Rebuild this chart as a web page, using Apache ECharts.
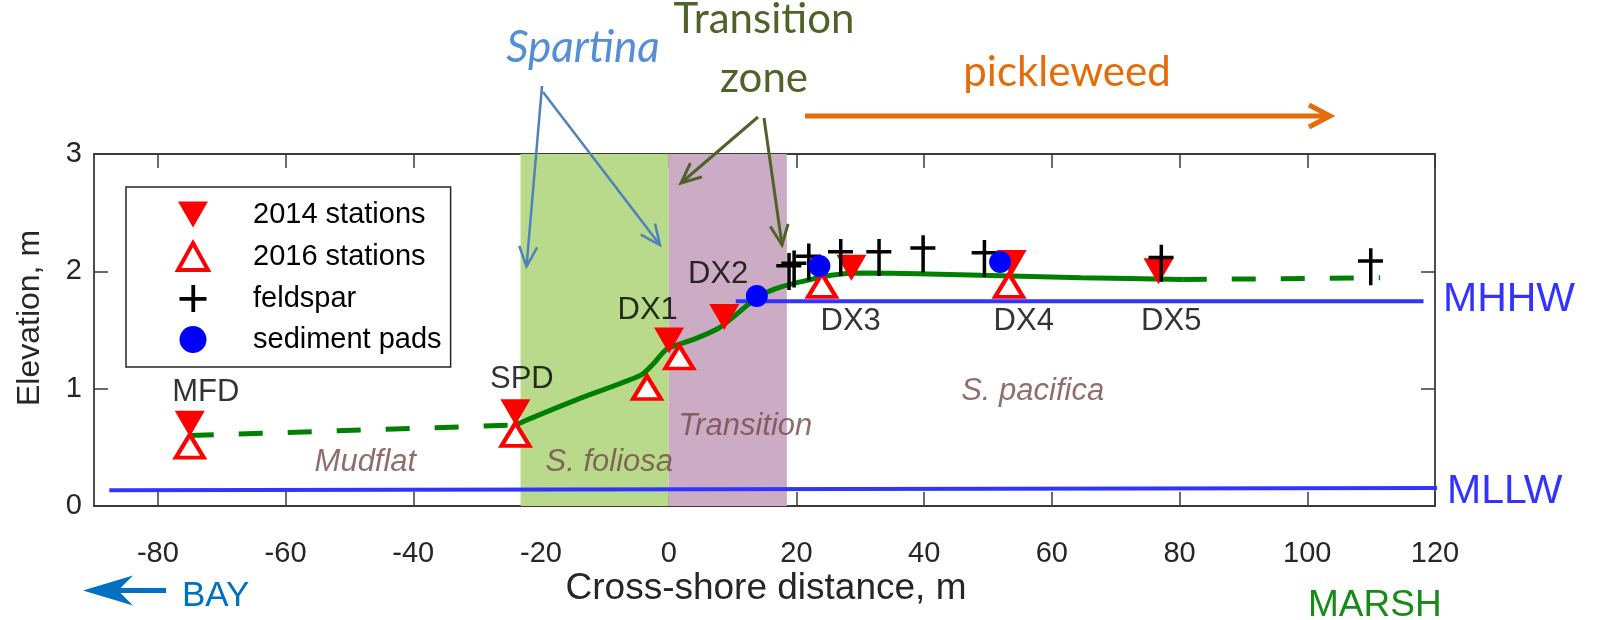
<!DOCTYPE html>
<html>
<head>
<meta charset="utf-8">
<script src="https://cdn.jsdelivr.net/npm/echarts@6/dist/echarts.min.js"></script>
<style>
  html, body { margin: 0; padding: 0; background: #fff; }
  #chart { width: 1598px; height: 620px; }
</style>
</head>
<body>
<div id="chart"></div>
<script>
// Cross-shore elevation profile across mudflat, Spartina, transition zone and pickleweed marsh

// Axis ticks
const xTicks = [-80, -60, -40, -20, 0, 20, 40, 60, 80, 100, 120];
const yTicks = [0, 1, 2, 3];

// Survey stations [distance m, elevation m]
const stations2014 = [[-75, 0.70], [-24, 0.80], [0.05, 1.41], [8.7, 1.61], [28.6, 2.03], [53.7, 2.07], [76.7, 2.00]];
const stations2016 = [[-75, 0.51], [-24, 0.61], [-3.4, 1.01], [1.65, 1.27], [24.0, 1.88], [53.3, 1.88]];
const feldspar = [[18.8, 2.05], [19.6, 2.07], [21.9, 2.13], [26.9, 2.17], [32.9, 2.17], [39.8, 2.20], [49.4, 2.16], [77.1, 2.12], [109.9, 2.09]];
const sedimentPads = [[13.8, 1.79], [23.6, 2.045], [51.9, 2.08]];

// Ground profile: surveyed (solid) and extrapolated (dashed)
const profileSurveyed = [[-24, 0.69], [-21.7, 0.745], [-13.9, 0.917], [-4.4, 1.114], [-2.4, 1.213], [-0.25, 1.34],
  [3.9, 1.42], [7.8, 1.515], [10.1, 1.61], [12.3, 1.71], [14.9, 1.81], [17.5, 1.866], [20.6, 1.91],
  [25.4, 1.967], [30.5, 1.985], [39, 1.98], [48.9, 1.966], [64.6, 1.946], [80.5, 1.93]];
const profileBaySide = [[-75, 0.60], [-24, 0.69]];
const profileMarshSide = [[80.5, 1.93], [111.4, 1.945]];

// Tidal datums
const mhhw = [[10.5, 1.745], [118.2, 1.745]];
const mllw = [[-87.6, 0.134], [120.5, 0.153]];

// Vegetation bands [from, to] in m
const spartinaBand = [-23.2, 0];
const transitionBand = [0, 18.5];

// Station names [distance, elevation, name]
const stationNames = [[-72.5, 0.965, 'MFD'], [-23.0, 1.08, 'SPD'], [-3.3, 1.67, 'DX1'], [7.75, 1.97, 'DX2'],
  [28.5, 1.575, 'DX3'], [55.6, 1.575, 'DX4'], [78.7, 1.575, 'DX5']];
// Habitat names [distance, elevation, name]
const habitatNames = [[-47.5, 0.373, 'Mudflat'], [-9.3, 0.373, 'S. foliosa'], [12.0, 0.675, 'Transition'], [57.0, 0.98, 'S. pacifica']];

const RED = '#ff0000';
const SANS = 'Liberation Sans, Arial, sans-serif';
const CALLOUT = 'Lato, sans-serif';
const downTriangle = 'path://M0,0 L30,0 L15,26 Z';
const plusSign = 'path://M11,0 H14.5 V11 H25 V14.5 H14.5 V25 H11 V14.5 H0 V11 H11 Z';
const dagger = 'path://M11,0 H14.5 V11 H25 V14.5 H14.5 V37 H11 V14.5 H0 V11 H11 Z';

const chart = echarts.init(document.getElementById('chart'), null, { renderer: 'canvas' });

// Arrow made of a shaft and a head (open chevron or filled stealth head)
function arrow(x1, y1, x2, y2, color, width, headLen, headHalf, filled) {
  const dx = x2 - x1, dy = y2 - y1;
  const len = Math.sqrt(dx * dx + dy * dy);
  const ux = dx / len, uy = dy / len;
  const px = -uy, py = ux;
  const bx = x2 - ux * headLen, by = y2 - uy * headLen;
  const left = [bx + px * headHalf, by + py * headHalf];
  const right = [bx - px * headHalf, by - py * headHalf];
  const els = [];
  const shaftEnd = filled ? [x2 - ux * headLen * 0.6, y2 - uy * headLen * 0.6] : [x2, y2];
  els.push({ type: 'line', z: 100, shape: { x1: x1, y1: y1, x2: shaftEnd[0], y2: shaftEnd[1] },
    style: { stroke: color, lineWidth: width, lineCap: 'butt' }, silent: true });
  if (filled) {
    const notch = [x2 - ux * headLen * 0.7, y2 - uy * headLen * 0.7];
    els.push({ type: 'polygon', z: 100, shape: { points: [[x2, y2], left, notch, right] },
      style: { fill: color }, silent: true });
  } else {
    els.push({ type: 'polyline', z: 100, shape: { points: [left, [x2, y2], right] },
      style: { stroke: color, lineWidth: width, fill: null, lineJoin: 'miter' }, silent: true });
  }
  return els;
}

function text(str, x, y, opts) {
  return {
    type: 'text', x: x, y: y, z: 100, silent: true,
    rotation: opts.rotation || 0,
    style: {
      text: str, fill: opts.color, font: opts.font,
      textAlign: opts.align || 'left', textVerticalAlign: 'middle'
    }
  };
}

const graphics = [].concat(
  [text('Elevation, m', 30, 318, { color: '#262626', font: '32px ' + SANS, align: 'center', rotation: Math.PI / 2 })],
  [text('Cross-shore distance, m', 766, 589, { color: '#262626', font: '37px ' + SANS, align: 'center' })],
  [text('BAY', 182, 596, { color: '#0070c0', font: '35px ' + SANS })],
  arrow(166, 590.5, 83, 590.5, '#0070c0', 5, 50, 15, true),
  [text('MARSH', 1308, 606, { color: '#178a17', font: '37px ' + SANS })],
  [text('MHHW', 1443, 300, { color: '#3333ff', font: '41px ' + SANS })],
  [text('MLLW', 1447, 492, { color: '#3333ff', font: '41px ' + SANS })],
  [text('Spartina', 583, 48, { color: '#558ed5', font: 'italic 44px ' + CALLOUT, align: 'center' })],
  [text('Transition', 764, 19, { color: '#4f6228', font: '42px ' + CALLOUT, align: 'center' })],
  [text('zone', 764, 78, { color: '#4f6228', font: '42px ' + CALLOUT, align: 'center' })],
  [text('pickleweed', 1067, 72, { color: '#e46c0a', font: '42px ' + CALLOUT, align: 'center' })],
  arrow(542, 86, 526.5, 266.5, '#4f81bd', 2.5, 20, 9, false),
  arrow(543, 92, 660, 245, '#4f81bd', 2.5, 20, 9, false),
  arrow(758, 117, 681, 183, '#4f6228', 3, 20, 9, false),
  arrow(764, 118, 782, 245, '#4f6228', 3, 20, 9, false),
  arrow(805, 116, 1330, 116, '#e46c0a', 5, 21, 11, false)
);

const axisLineStyle = { color: '#3a3a3a', width: 1.8 };
const tickStyle = { color: '#3a3a3a', width: 1.5 };

const option = {
  animation: false,
  backgroundColor: '#ffffff',
  grid: { left: 94, top: 154, width: 1341, height: 352, containLabel: false },
  xAxis: [
    {
      type: 'value', position: 'bottom', min: -90, max: 120,
      axisLine: { show: true, onZero: false, lineStyle: axisLineStyle },
      axisTick: { show: true, inside: true, length: 14, lineStyle: tickStyle, customValues: xTicks },
      axisLabel: { show: true, customValues: xTicks, margin: 33, color: '#262626', fontSize: 29, fontFamily: SANS },
      splitLine: { show: false }
    },
    {
      type: 'value', position: 'top', min: -90, max: 120,
      axisLine: { show: true, onZero: false, lineStyle: axisLineStyle },
      axisTick: { show: true, inside: true, length: 14, lineStyle: tickStyle, customValues: xTicks },
      axisLabel: { show: false },
      splitLine: { show: false }
    }
  ],
  yAxis: [
    {
      type: 'value', position: 'left', min: 0, max: 3, interval: 1,
      axisLine: { show: true, onZero: false, lineStyle: axisLineStyle },
      axisTick: { show: true, inside: true, length: 14, lineStyle: tickStyle },
      axisLabel: { show: true, margin: 12, color: '#262626', fontSize: 29, fontFamily: SANS,
        formatter: v => (yTicks.indexOf(v) >= 0 ? String(v) : '') },
      splitLine: { show: false }
    },
    {
      type: 'value', position: 'right', min: 0, max: 3, interval: 1,
      axisLine: { show: true, onZero: false, lineStyle: axisLineStyle },
      axisTick: { show: true, inside: true, length: 14, lineStyle: tickStyle },
      axisLabel: { show: false },
      splitLine: { show: false }
    }
  ],
  legend: {
    data: [
      { name: '2014 stations', icon: downTriangle },
      { name: '2016 stations', icon: 'triangle', itemStyle: { color: '#ffffff', borderColor: RED, borderWidth: 4 } },
      { name: 'feldspar', icon: plusSign },
      { name: 'sediment pads', icon: 'circle' }
    ],
    orient: 'vertical', left: 126, top: 187,
    padding: [13, 9, 13, 50],
    itemWidth: 30, itemHeight: 27, itemGap: 12,
    borderColor: '#262626', borderWidth: 1.5, backgroundColor: '#ffffff',
    selectedMode: false,
    textStyle: { fontFamily: SANS, fontSize: 29, color: '#000000', padding: [0, 0, 0, 40] }
  },
  graphic: { elements: graphics },
  series: [
    {
      name: 'bands', type: 'line', data: [], z: 1, silent: true,
      markArea: {
        silent: true,
        data: [
          [{ xAxis: spartinaBand[0], itemStyle: { color: '#b9d98b', opacity: 1 } }, { xAxis: spartinaBand[1] }],
          [{ xAxis: transitionBand[0], itemStyle: { color: '#cbacc4', opacity: 1 } }, { xAxis: transitionBand[1] }]
        ]
      }
    },
    {
      name: 'MLLW', type: 'line', data: mllw, symbol: 'none', clip: false, z: 3, silent: true,
      lineStyle: { color: '#3333ff', width: 4 }
    },
    {
      name: 'MHHW', type: 'line', data: mhhw, symbol: 'none', clip: false, z: 3, silent: true,
      lineStyle: { color: '#3333ff', width: 4 }
    },
    {
      name: 'profile', type: 'line', data: profileSurveyed, symbol: 'none', smooth: 0.25, z: 4, silent: true,
      lineStyle: { color: '#008000', width: 5 }
    },
    {
      name: 'profile bay side', type: 'line', data: profileBaySide, symbol: 'none', z: 4, silent: true,
      lineStyle: { color: '#008000', width: 5, type: [24, 25] }
    },
    {
      name: 'profile marsh side', type: 'line', data: profileMarshSide, symbol: 'none', z: 4, silent: true,
      lineStyle: { color: '#008000', width: 5, type: [24, 25] }
    },
    {
      name: '2014 stations', type: 'scatter', data: stations2014, z: 5,
      symbol: downTriangle, symbolSize: [30, 26], symbolKeepAspect: false,
      itemStyle: { color: RED, opacity: 1 }
    },
    {
      name: '2016 stations', type: 'scatter', data: stations2016, z: 5,
      symbol: 'triangle', symbolSize: [28, 23],
      itemStyle: { color: '#ffffff', borderColor: RED, borderWidth: 4, opacity: 1 }
    },
    {
      name: 'feldspar', type: 'scatter', data: feldspar, z: 6,
      symbol: dagger, symbolSize: [25, 37], symbolOffset: [0, 6],
      itemStyle: { color: '#000000', opacity: 1 }
    },
    {
      name: 'sediment pads', type: 'scatter', data: sedimentPads, z: 6,
      symbol: 'circle', symbolSize: 22,
      itemStyle: { color: '#0000ff', opacity: 1 }
    },
    {
      name: 'station names', type: 'scatter', data: stationNames, z: 7, silent: true,
      symbolSize: 1, itemStyle: { color: 'rgba(0,0,0,0)' },
      label: { show: true, position: 'inside', formatter: p => p.data[2],
        color: '#000000', fontSize: 31, fontFamily: SANS }
    },
    {
      name: 'habitat names', type: 'scatter', data: habitatNames, z: 7, silent: true,
      symbolSize: 1, itemStyle: { color: 'rgba(0,0,0,0)' },
      label: { show: true, position: 'inside', formatter: p => p.data[2],
        color: '#744a4a', fontSize: 31, fontStyle: 'italic', fontFamily: SANS }
    }
  ]
};

chart.setOption(option);
</script>
</body>
</html>
